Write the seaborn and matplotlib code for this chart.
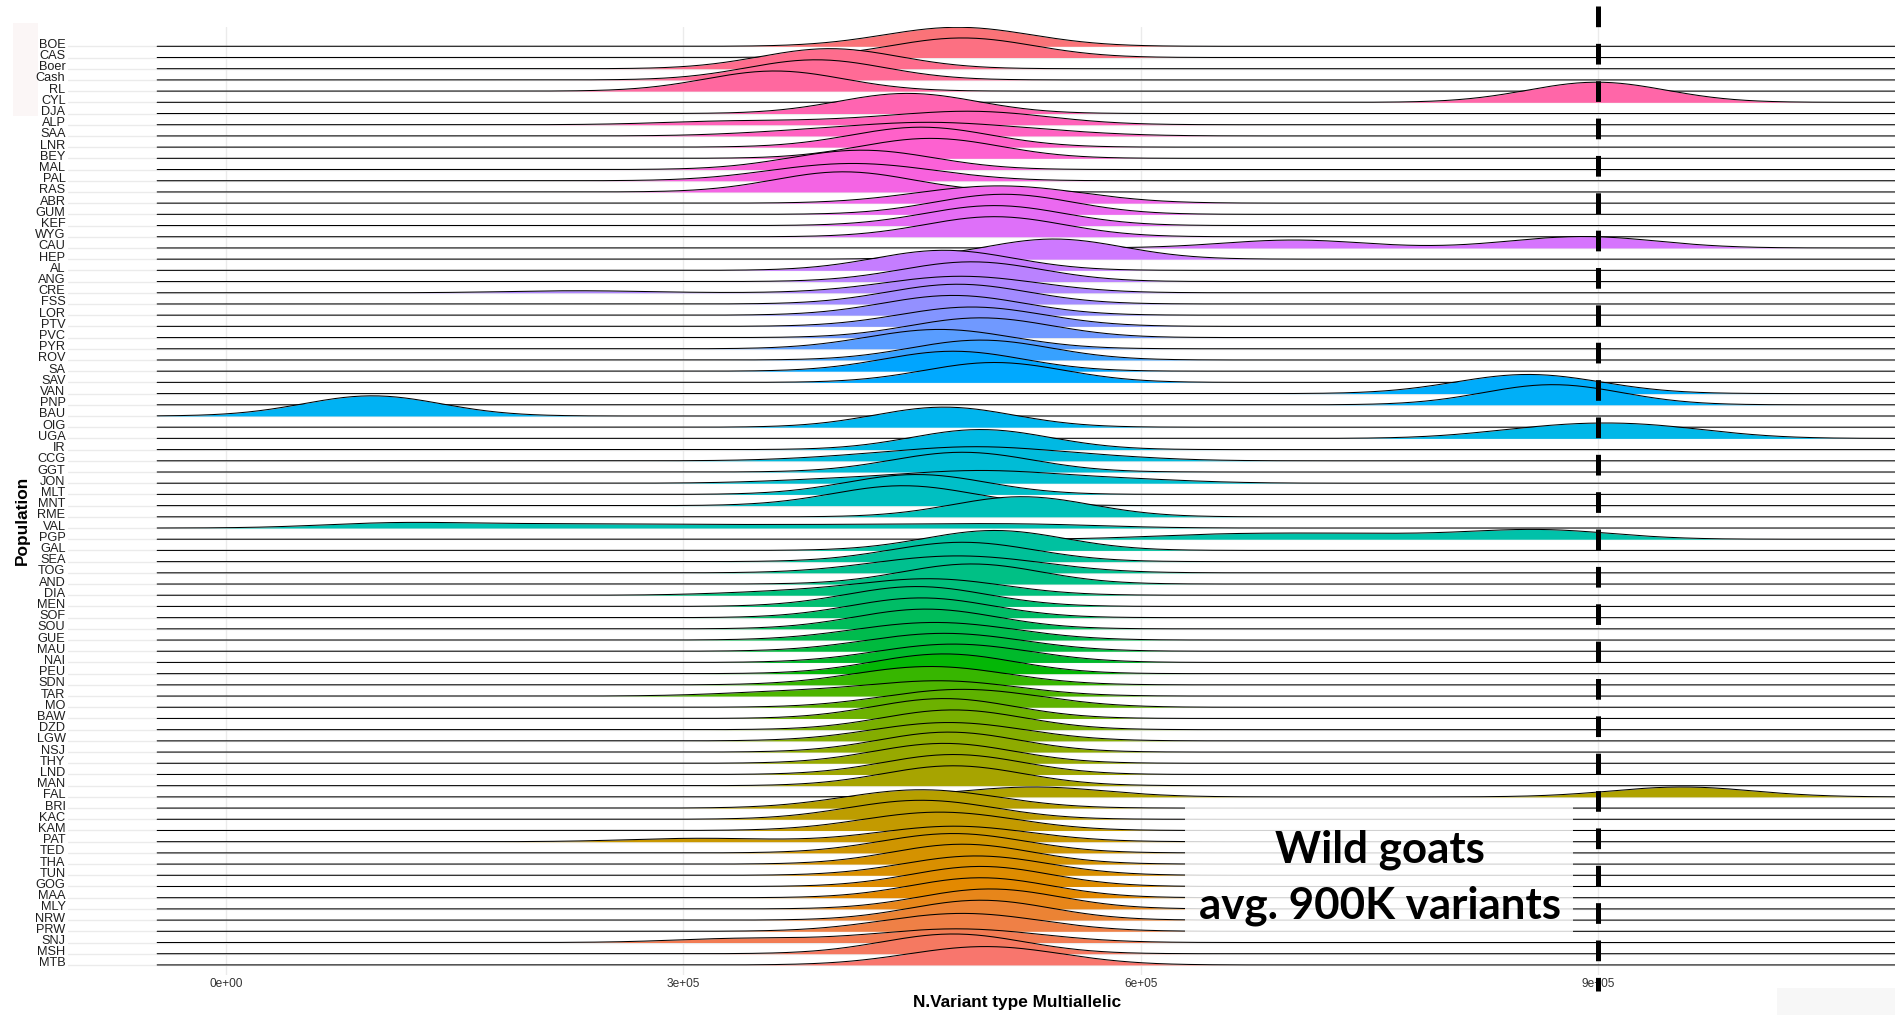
import numpy as np
import matplotlib
matplotlib.use("Agg")
import matplotlib.pyplot as plt
import matplotlib.transforms as mtransforms
import seaborn as sns
from matplotlib.patches import Rectangle

# ---------------- data ----------------
populations = ["BOE", "CAS", "Boer", "Cash", "RL", "CYL", "DJA", "ALP", "SAA", "LNR",
               "BEY", "MAL", "PAL", "RAS", "ABR", "GUM", "KEF", "WYG", "CAU", "HEP",
               "AL", "ANG", "CRE", "FSS", "LOR", "PTV", "PVC", "PYR", "ROV", "SA",
               "SAV", "VAN", "PNP", "BAU", "OIG", "UGA", "IR", "CCG", "GGT", "JON",
               "MLT", "MNT", "RME", "VAL", "PGP", "GAL", "SEA", "TOG", "AND", "DIA",
               "MEN", "SOF", "SOU", "GUE", "MAU", "NAI", "PEU", "SDN", "TAR", "MO",
               "BAW", "DZD", "LGW", "NSJ", "THY", "LND", "MAN", "FAL", "BRI", "KAC",
               "KAM", "PAT", "TED", "THA", "TUN", "GOG", "MAA", "MLY", "NRW", "PRW",
               "SNJ", "MSH", "MTB"]

# per-population multiallelic variant counts (thousands), read from the ridges
v_BOE = [460, 480, 500]
v_CAS = [468, 483, 498]
v_Boer = [388, 396, 404]
v_Cash = [380, 387, 394]
v_RL = [353, 360, 367]
v_CYL = [892, 899, 906]
v_DJA = [440, 447, 454]
v_ALP = [330, 415, 470, 485, 500, 515]
v_SAA = [380, 440, 460, 475, 530]
v_LNR = [446, 456, 466]
v_BEY = [452, 462, 472]
v_MAL = [400, 417, 434]
v_PAL = [379, 411, 443]
v_RAS = [398, 405, 412]
v_ABR = [475, 507, 539]
v_GUM = [502, 510, 518]
v_KEF = [494, 504, 514]
v_WYG = [496, 504, 512]
v_CAU = [690, 710, 870, 890, 910]
v_HEP = [536, 543, 550]
v_AL = [463, 471, 479]
v_ANG = [476, 489, 502]
v_CRE = [230, 450, 458, 466, 474, 482, 490, 498, 506, 514]
v_FSS = [467, 480, 493]
v_LOR = [464, 477, 490]
v_PTV = [472, 489, 506]
v_PVC = [482, 495, 508]
v_PYR = [451, 468, 485]
v_ROV = [484, 495, 506]
v_SA = [467, 477, 487]
v_SAV = [493, 504, 515]
v_VAN = [835, 854, 873]
v_PNP = [863, 870, 877]
v_BAU = [90, 96, 102]
v_OIG = [463, 471, 479]
v_UGA = [860, 905, 945]
v_IR = [487, 495, 503]
v_CCG = [420, 480, 492, 504, 565]
v_GGT = [470, 483, 496]
v_JON = [400, 465, 485, 505, 525, 590]
v_MLT = [442, 453, 464]
v_MNT = [433, 444, 455]
v_RME = [515, 522, 529]
v_VAL = [92, 105, 125, 160, 210, 240, 290, 340, 390, 440, 480, 520, 550]
v_PGP = [640, 700, 760, 840, 860, 880]
v_GAL = [494, 504, 514]
v_SEA = [466, 483, 500]
v_TOG = [446, 480, 514]
v_AND = [481, 489, 497]
v_DIA = [370, 443, 453, 463, 473, 483]
v_MEN = [442, 453, 464]
v_SOF = [443, 456, 469]
v_SOU = [446, 459, 472]
v_GUE = [435, 465, 495]
v_MAU = [443, 471, 499]
v_NAI = [452, 477, 502]
v_PEU = [458, 471, 484]
v_SDN = [437, 462, 487]
v_TAR = [370, 445, 462, 478, 495]
v_MO = [455, 483, 511]
v_BAW = [460, 471, 482]
v_DZD = [464, 477, 490]
v_LGW = [449, 474, 499]
v_NSJ = [464, 474, 484]
v_THY = [460, 471, 482]
v_LND = [467, 477, 487]
v_MAN = [466, 477, 488]
v_FAL = [520, 540, 945, 965]
v_BRI = [431, 456, 481]
v_KAC = [436, 456, 476]
v_KAM = [443, 468, 493]
v_PAT = [310, 450, 465, 478, 490, 505]
v_TED = [460, 477, 494]
v_THA = [472, 483, 494]
v_TUN = [475, 492, 509]
v_GOG = [487, 495, 503]
v_MAA = [485, 495, 505]
v_MLY = [491, 501, 511]
v_NRW = [484, 495, 506]
v_PRW = [455, 483, 511]
v_SNJ = [340, 440, 470, 490, 515]
v_MSH = [464, 477, 490]
v_MTB = [473, 498, 523]

samples = [v_BOE, v_CAS, v_Boer, v_Cash, v_RL, v_CYL, v_DJA, v_ALP, v_SAA, v_LNR,
           v_BEY, v_MAL, v_PAL, v_RAS, v_ABR, v_GUM, v_KEF, v_WYG, v_CAU, v_HEP,
           v_AL, v_ANG, v_CRE, v_FSS, v_LOR, v_PTV, v_PVC, v_PYR, v_ROV, v_SA,
           v_SAV, v_VAN, v_PNP, v_BAU, v_OIG, v_UGA, v_IR, v_CCG, v_GGT, v_JON,
           v_MLT, v_MNT, v_RME, v_VAL, v_PGP, v_GAL, v_SEA, v_TOG, v_AND, v_DIA,
           v_MEN, v_SOF, v_SOU, v_GUE, v_MAU, v_NAI, v_PEU, v_SDN, v_TAR, v_MO,
           v_BAW, v_DZD, v_LGW, v_NSJ, v_THY, v_LND, v_MAN, v_FAL, v_BRI, v_KAC,
           v_KAM, v_PAT, v_TED, v_THA, v_TUN, v_GOG, v_MAA, v_MLY, v_NRW, v_PRW,
           v_SNJ, v_MSH, v_MTB]

x_ticks = [0, 300000, 600000, 900000]
x_tick_labels = ["0e+00", "3e+05", "6e+05", "9e+05"]
wild_avg = 900000
x_title = "N.Variant type Multiallelic"
y_title = "Population"
note_lines = ["Wild goats", "avg. 900K variants"]

# ---------------- helpers ----------------
def hcl_rgb(h, c=100.0, l=65.0):
    hr = np.deg2rad(h)
    U, V = c * np.cos(hr), c * np.sin(hr)
    Y = 100.0 * ((l + 16) / 116) ** 3
    u = U / (13 * l) + 0.1978398
    v = V / (13 * l) + 0.4683363
    X = 9.0 * Y * u / (4 * v)
    Z = -X / 3 - 5 * Y + 3 * Y / v
    X, Y, Z = X / 100, Y / 100, Z / 100
    r = 3.240479 * X - 1.537150 * Y - 0.498535 * Z
    g = -0.969256 * X + 1.875992 * Y + 0.041556 * Z
    b = 0.055648 * X - 0.204043 * Y + 1.057311 * Z
    def gam(t):
        return 12.92 * t if t <= 0.0031308 else 1.055 * t ** (1 / 2.4) - 0.055
    return tuple(min(max(gam(t), 0.0), 1.0) for t in (r, g, b))

n = len(populations)
# ggplot default hue palette, first factor level at the bottom
colors = [hcl_rgb(15 + 360.0 * (n - 1 - i) / n) for i in range(n)]

bw = 45.0          # joint bandwidth (thousands)
ridge_scale = 1.8  # ggridges default scale
allv = np.concatenate([np.asarray(s, float) for s in samples])
grid = np.linspace(allv.min() - 3 * bw, allv.max() + 3 * bw, 600)

def kde(vals):
    v = np.asarray(vals, float)[:, None]
    return np.exp(-0.5 * ((grid[None, :] - v) / bw) ** 2).sum(0) / (len(vals) * bw * np.sqrt(2 * np.pi))

dens = [kde(s) for s in samples]
gmax = max(d.max() for d in dens)

# ---------------- figure ----------------
sns.set_theme(style="white")
plt.rcParams['font.family'] = ['Liberation Sans', 'DejaVu Sans']
plt.rcParams['lines.scale_dashes'] = False

W, H = 1895, 1015
fig = plt.figure(figsize=(W / 100, H / 100), dpi=100)
fig.patch.set_facecolor("white")

ax_left, ax_top, ax_bot = 68, 27, 975
ax = fig.add_axes([ax_left / W, 1 - ax_bot / H, (W - ax_left) / W, (ax_bot - ax_top) / H])
ax.set_facecolor("white")

x0_px, k = 225.8, 655.7
ax.set_xlim((ax_left - x0_px) * k, (W - x0_px) * k)
ax.set_ylim(-0.9, (n - 1) + (46.3 - ax_top) / 11.2)

for sp in ax.spines.values():
    sp.set_visible(False)

ax.set_axisbelow(True)
ax.grid(True, axis="both", color="#EBEBEB", lw=1.0)

ax.set_yticks(range(n))
ax.set_yticklabels(populations[::-1])
ax.set_xticks(x_ticks)
ax.set_xticklabels(x_tick_labels)
ax.tick_params(axis="y", length=0, pad=1.8, labelsize=9.2, labelcolor="#1e1e1e")
ax.tick_params(axis="x", length=0, pad=2.2, labelsize=8.6, labelcolor="#333333")
lift = mtransforms.ScaledTranslation(0, 3 / 100, fig.dpi_scale_trans)
for lab in ax.get_yticklabels():
    lab.set_transform(lab.get_transform() + lift)

for i, (d, col) in enumerate(zip(dens, colors)):
    base = n - 1 - i
    top = base + d / gmax * ridge_scale
    ax.fill_between(grid * 1000, base, top, color=col, lw=0, zorder=2 + i * 0.02)
    sns.lineplot(x=grid * 1000, y=top, color="black", lw=0.75, ax=ax,
                 zorder=2.01 + i * 0.02, sort=False, estimator=None)

# dashed reference line (wild goats average)
def py2y(py):
    return (n - 1) - (py - 46.3) / 11.2
ax.plot([wild_avg, wild_avg], [py2y(6), py2y(991)], color="black", lw=3.6,
        dashes=(14.9, 12.0), solid_capstyle="butt", dash_capstyle="butt",
        clip_on=False, zorder=20)

# faint background boxes
ax.add_patch(Rectangle((12.7 / W, 1 - 116 / H), 25 / W, 93.3 / H, transform=fig.transFigure,
                       facecolor="#FBF6F6", edgecolor="none", clip_on=False, zorder=0))
ax.add_patch(Rectangle((1777 / W, 0), 118 / W, 27 / H, transform=fig.transFigure,
                       facecolor="#F7F7F7", edgecolor="none", clip_on=False, zorder=0))

# annotation box
ax.add_patch(Rectangle((1185 / W, 1 - 937 / H), (1573 - 1185) / W, (937 - 800) / H,
                       transform=fig.transFigure, facecolor="white", edgecolor="none",
                       alpha=0.82, clip_on=False, zorder=15))
note_family = ["Lato", "DejaVu Sans"]
t1 = ax.text(1380 / W, 1 - 862 / H, note_lines[0], transform=fig.transFigure,
             ha="center", va="baseline", fontsize=30, fontweight="bold",
             family=note_family, color="black", zorder=16)
t2 = ax.text(1380 / W, 1 - 919 / H, note_lines[1], transform=fig.transFigure,
             ha="center", va="baseline", fontsize=30, fontweight="bold",
             family=note_family, color="black", zorder=16)
renderer = fig.canvas.get_renderer()
wpx = t2.get_window_extent(renderer).width
fs = 30 * 362.0 / wpx
t1.set_fontsize(fs)
t2.set_fontsize(fs)

# axis titles
fig.text(1017 / W, 1 - 1002 / H, x_title, ha="center", va="center",
         fontsize=12.4, fontweight="bold", color="black")
fig.text(22 / W, 1 - 520 / H, y_title, ha="center", va="center", rotation=90,
         fontsize=12.4, fontweight="bold", color="black")

fig.savefig("out.png", dpi=100, facecolor="white")
